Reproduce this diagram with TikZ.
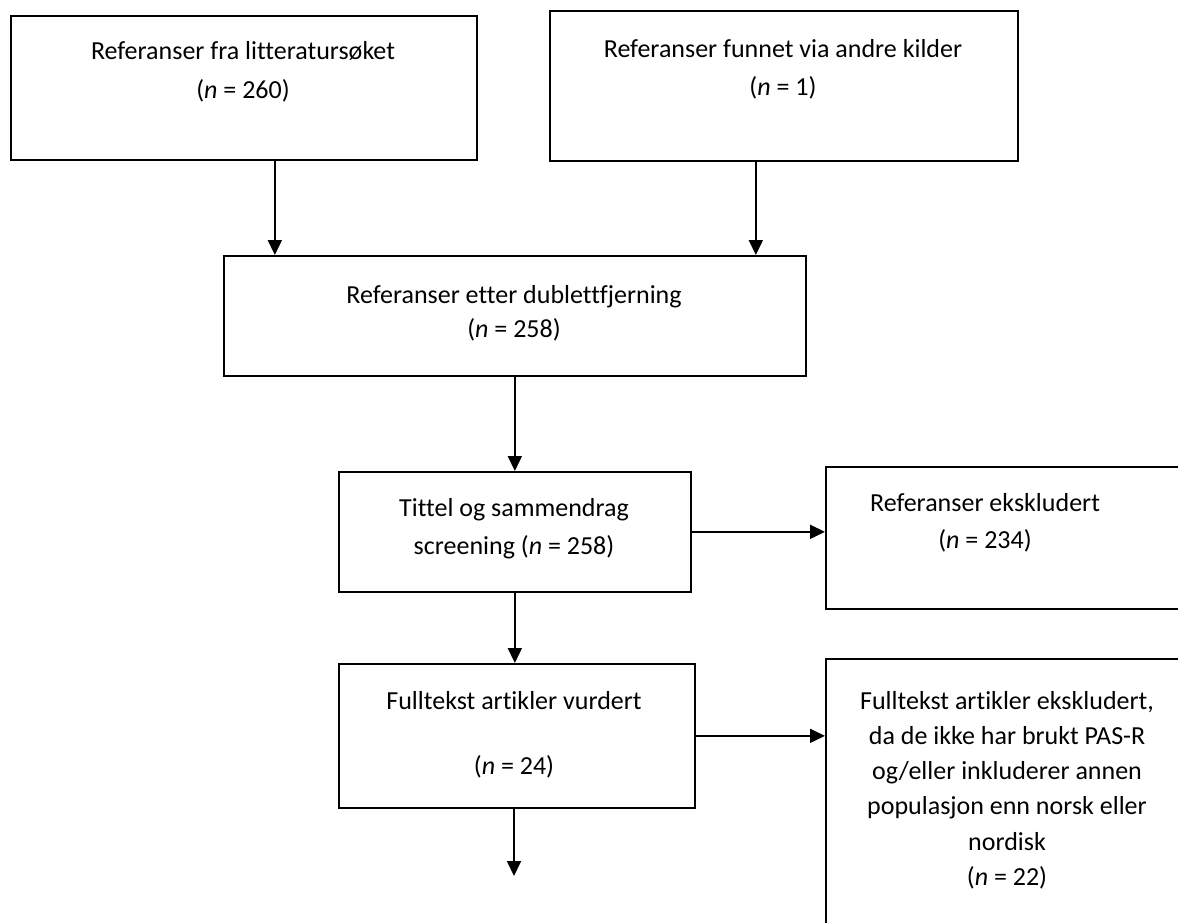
\documentclass[tikz,border=0pt]{standalone}
\usepackage{fontspec}
\setmainfont{Carlito}[Ligatures=NoCommon]
\usetikzlibrary{arrows.meta}
\begin{document}
\begin{tikzpicture}[x=1pt,y=-1pt,
    box/.style={draw,line width=1.7pt,inner sep=0pt,anchor=north west},
    txt/.style={align=center,inner sep=0pt,font=\fontsize{26}{37}\selectfont},
    arr/.style={-{Triangle[length=15pt,width=14pt]},line width=1.7pt}]
  \useasboundingbox (0,0) rectangle (1178,922);

  \node[box,minimum width=466,minimum height=144] (refs)     at (10,15)  {};
  \node[box,minimum width=468,minimum height=150] (other)    at (549,10) {};
  \node[box,minimum width=582,minimum height=120] (dedup)    at (223,255) {};
  \node[box,minimum width=352,minimum height=120] (screen)   at (338,471) {};
  \node[box,minimum width=420,minimum height=142] (excl)     at (825,466) {};
  \node[box,minimum width=356,minimum height=144] (full)     at (338,663) {};
  \node[box,minimum width=420,minimum height=320] (fullexcl) at (825,658) {};

  \node[txt,font=\fontsize{26}{39}\selectfont] (refsT)  at (243,72)  {Referanser fra litteratursøket\\(\textit{n} = 260)};
  \node[txt,font=\fontsize{26}{38}\selectfont] (otherT) at (783,69)  {Referanser funnet via andre kilder\\(\textit{n} = 1)};
  \node[txt,font=\fontsize{26}{34}\selectfont] (dedupT) at (514,313) {Referanser etter dublettfjerning\\(\textit{n} = 258)};
  \node[txt,font=\fontsize{26}{38}\selectfont] (screenT) at (514,529) {Tittel og sammendrag\\screening (\textit{n} = 258)};
  \node[txt] (exclT) at (985,523) {Referanser ekskludert\\(\textit{n} = 234)};
  \node[txt] (fullT) at (514,735) {Fulltekst artikler vurdert\\[28pt](\textit{n} = 24)};
  \node[txt,font=\fontsize{26}{35.2}\selectfont] (fullexclT) at (1007,790)
    {Fulltekst artikler ekskludert,\\da de ikke har brukt PAS-R\\og/eller inkluderer annen\\populasjon enn norsk eller\\nordisk\\(\textit{n} = 22)};

  \coordinate (next) at (514,876);

  \draw[arr] ([xshift=31pt]refs.south) -- ([xshift=31pt]refs.south |- dedup.north);
  \draw[arr] ([xshift=-28pt]other.south) -- ([xshift=-28pt]other.south |- dedup.north);
  \draw[arr] (dedup.south) -- (screen.north);
  \draw[arr] (screen.east) -- (screen.east -| excl.west);
  \draw[arr] (screen.south) -- (screen.south |- full.north);
  \draw[arr] (full.east) -- (full.east -| fullexcl.west);
  \draw[arr] (full.south -| next) -- (next);
\end{tikzpicture}
\end{document}
